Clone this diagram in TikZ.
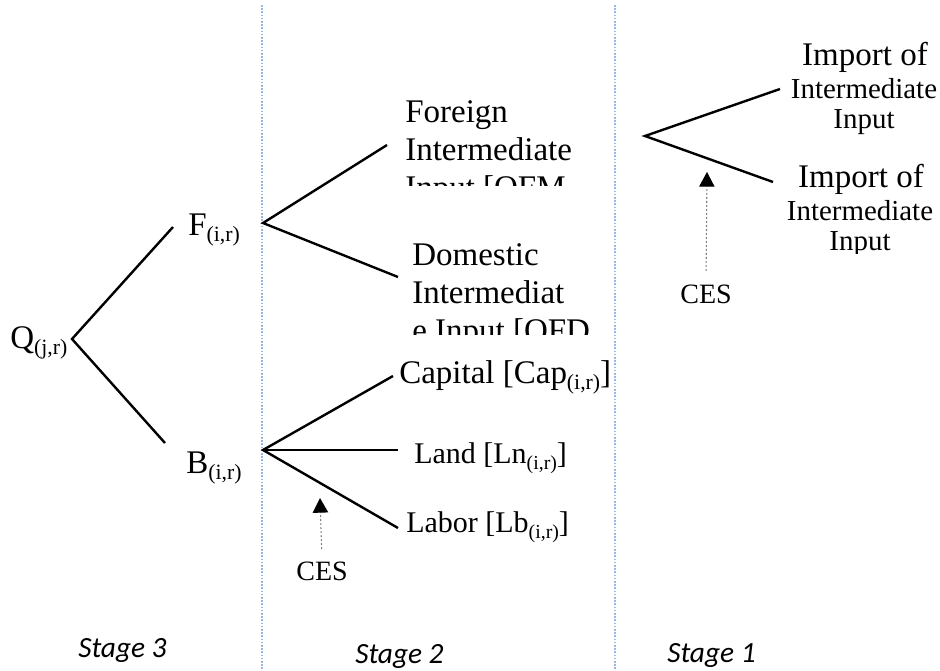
\documentclass[tikz,border=0pt]{standalone}
\usepackage{fontspec}
\setmainfont{Liberation Serif}
\newfontfamily\stagefont{Carlito}
\usepackage{xcolor}
\usepackage{tikz}
\usetikzlibrary{arrows.meta, positioning}

\definecolor{sepblue}{RGB}{150,185,228}
\newcommand{\sbs}[1]{\raisebox{-0.2em}{\scalebox{0.66}{#1}}}

\begin{document}
\begin{tikzpicture}[
    x=0.75pt, y=-0.75pt,
    branch/.style={line width=1.8pt},
    sepline/.style={draw=sepblue, line width=0.8pt, dash pattern=on 1.2pt off 1.2pt},
    cesarrow/.style={draw=gray, line width=0.8pt, dash pattern=on 1.5pt off 1.5pt,
      -{Triangle[width=11.5pt, length=11pt, black]}},
    lbl/.style={inner sep=0pt, anchor=base west,
      font=\fontsize{24.75}{28.5}\selectfont},
    smalllbl/.style={inner sep=0pt, anchor=base west,
      font=\fontsize{22.5}{26}\selectfont},
    implbl/.style={inner sep=0pt, anchor=base, align=center,
      font=\fontsize{24.75}{28.5}\selectfont},
    impsub/.style={inner sep=0pt, anchor=base, align=center,
      font=\fontsize{21.7}{22.5}\selectfont},
    ceslbl/.style={inner sep=0pt, anchor=base,
      font=\fontsize{21}{24}\selectfont},
    stage/.style={inner sep=0pt, anchor=base west,
      font=\stagefont\itshape\fontsize{22}{26}\selectfont}
]
\useasboundingbox (0,0) rectangle (940,671);

% 1) stage separators
\coordinate (sepTopA) at (262,5);
\coordinate (sepBotA) at (262,671);
\coordinate (sepTopB) at (615,5);
\coordinate (sepBotB) at (615,671);
\draw[sepline] (sepTopA) -- (sepBotA);
\draw[sepline] (sepTopB) -- (sepBotB);

% 2) Stage 3: output
\node[lbl] (qNode) at (10,348) {Q\sbs{(j,r)}};
\node[lbl] (fNode) at (188,235) {F\sbs{(i,r)}};
\node[lbl] (bNode) at (186,473) {B\sbs{(i,r)}};

\coordinate (qVert) at (72,339);
\coordinate (qUp) at (173,227);
\coordinate (qDown) at (165,443);
\draw[branch] (qUp) -- (qVert) -- (qDown);

% 3) Stage 2: intermediate inputs (text cut off)
% multi-line nodes sit on the base of their last line
\begin{scope}
  \clip (390,60) rectangle (640,185);
  \node[lbl, align=left] (foreignIn) at (405,198)
    {Foreign\\Intermediate\\Input [QFM};
\end{scope}
\begin{scope}
  \clip (390,200) rectangle (640,334);
  \node[lbl, align=left] (domesticIn) at (412,341)
    {Domestic\\Intermediat\\e Input [QFD};
\end{scope}

\coordinate (fVert) at (263,223);
\coordinate (fUp) at (387,145);
\coordinate (fDown) at (398,277);
\draw[branch] (fUp) -- (fVert) -- (fDown);

% 4) Stage 2: primary factors
\node[lbl] (capitalIn) at (399,383) {Capital [Cap\sbs{(i,r)}]};
\node[smalllbl] (landIn) at (414,463) {Land [Ln\sbs{(i,r)}]};
\node[smalllbl] (laborIn) at (406,532) {Labor [Lb\sbs{(i,r)}]};

\coordinate (bVert) at (263,450);
\coordinate (bCap) at (393,376);
\coordinate (bLand) at (398,450);
\coordinate (bLabor) at (398,528);
\draw[branch] (bCap) -- (bVert) -- (bLabor);
\draw[branch] (bVert) -- (bLand);

\coordinate (cesTipB) at (320,498);
\node[ceslbl] (cesB) at (322,580) {CES};
\draw[cesarrow, shorten <=9pt] (cesB.north) -- (cesTipB);

% 5) Stage 1: imports
\node[implbl] (importTop) at (865,65) {Import of};
\node[impsub] (importTopSub) at (864,128) {Intermediate\\Input};
\node[implbl] (importBot) at (861,187) {Import of};
\begin{scope}
  \clip (760,190) rectangle (940,253);
  \node[impsub] (importBotSub) at (860,250) {Intermediate\\Input};
\end{scope}

\coordinate (impVert) at (645,136);
\coordinate (impUp) at (780,89);
\coordinate (impDown) at (773,182);
\draw[branch] (impUp) -- (impVert) -- (impDown);

\coordinate (cesTipA) at (707,172);
\node[ceslbl] (cesA) at (706,303) {CES};
\draw[cesarrow, shorten <=10pt] (cesA.north) -- (cesTipA);

% 6) stage labels
\node[stage] (stageThree) at (78,657) {Stage 3};
\node[stage] (stageTwo) at (355,663) {Stage 2};
\node[stage] (stageOne) at (667,662) {Stage 1};

\end{tikzpicture}
\end{document}
